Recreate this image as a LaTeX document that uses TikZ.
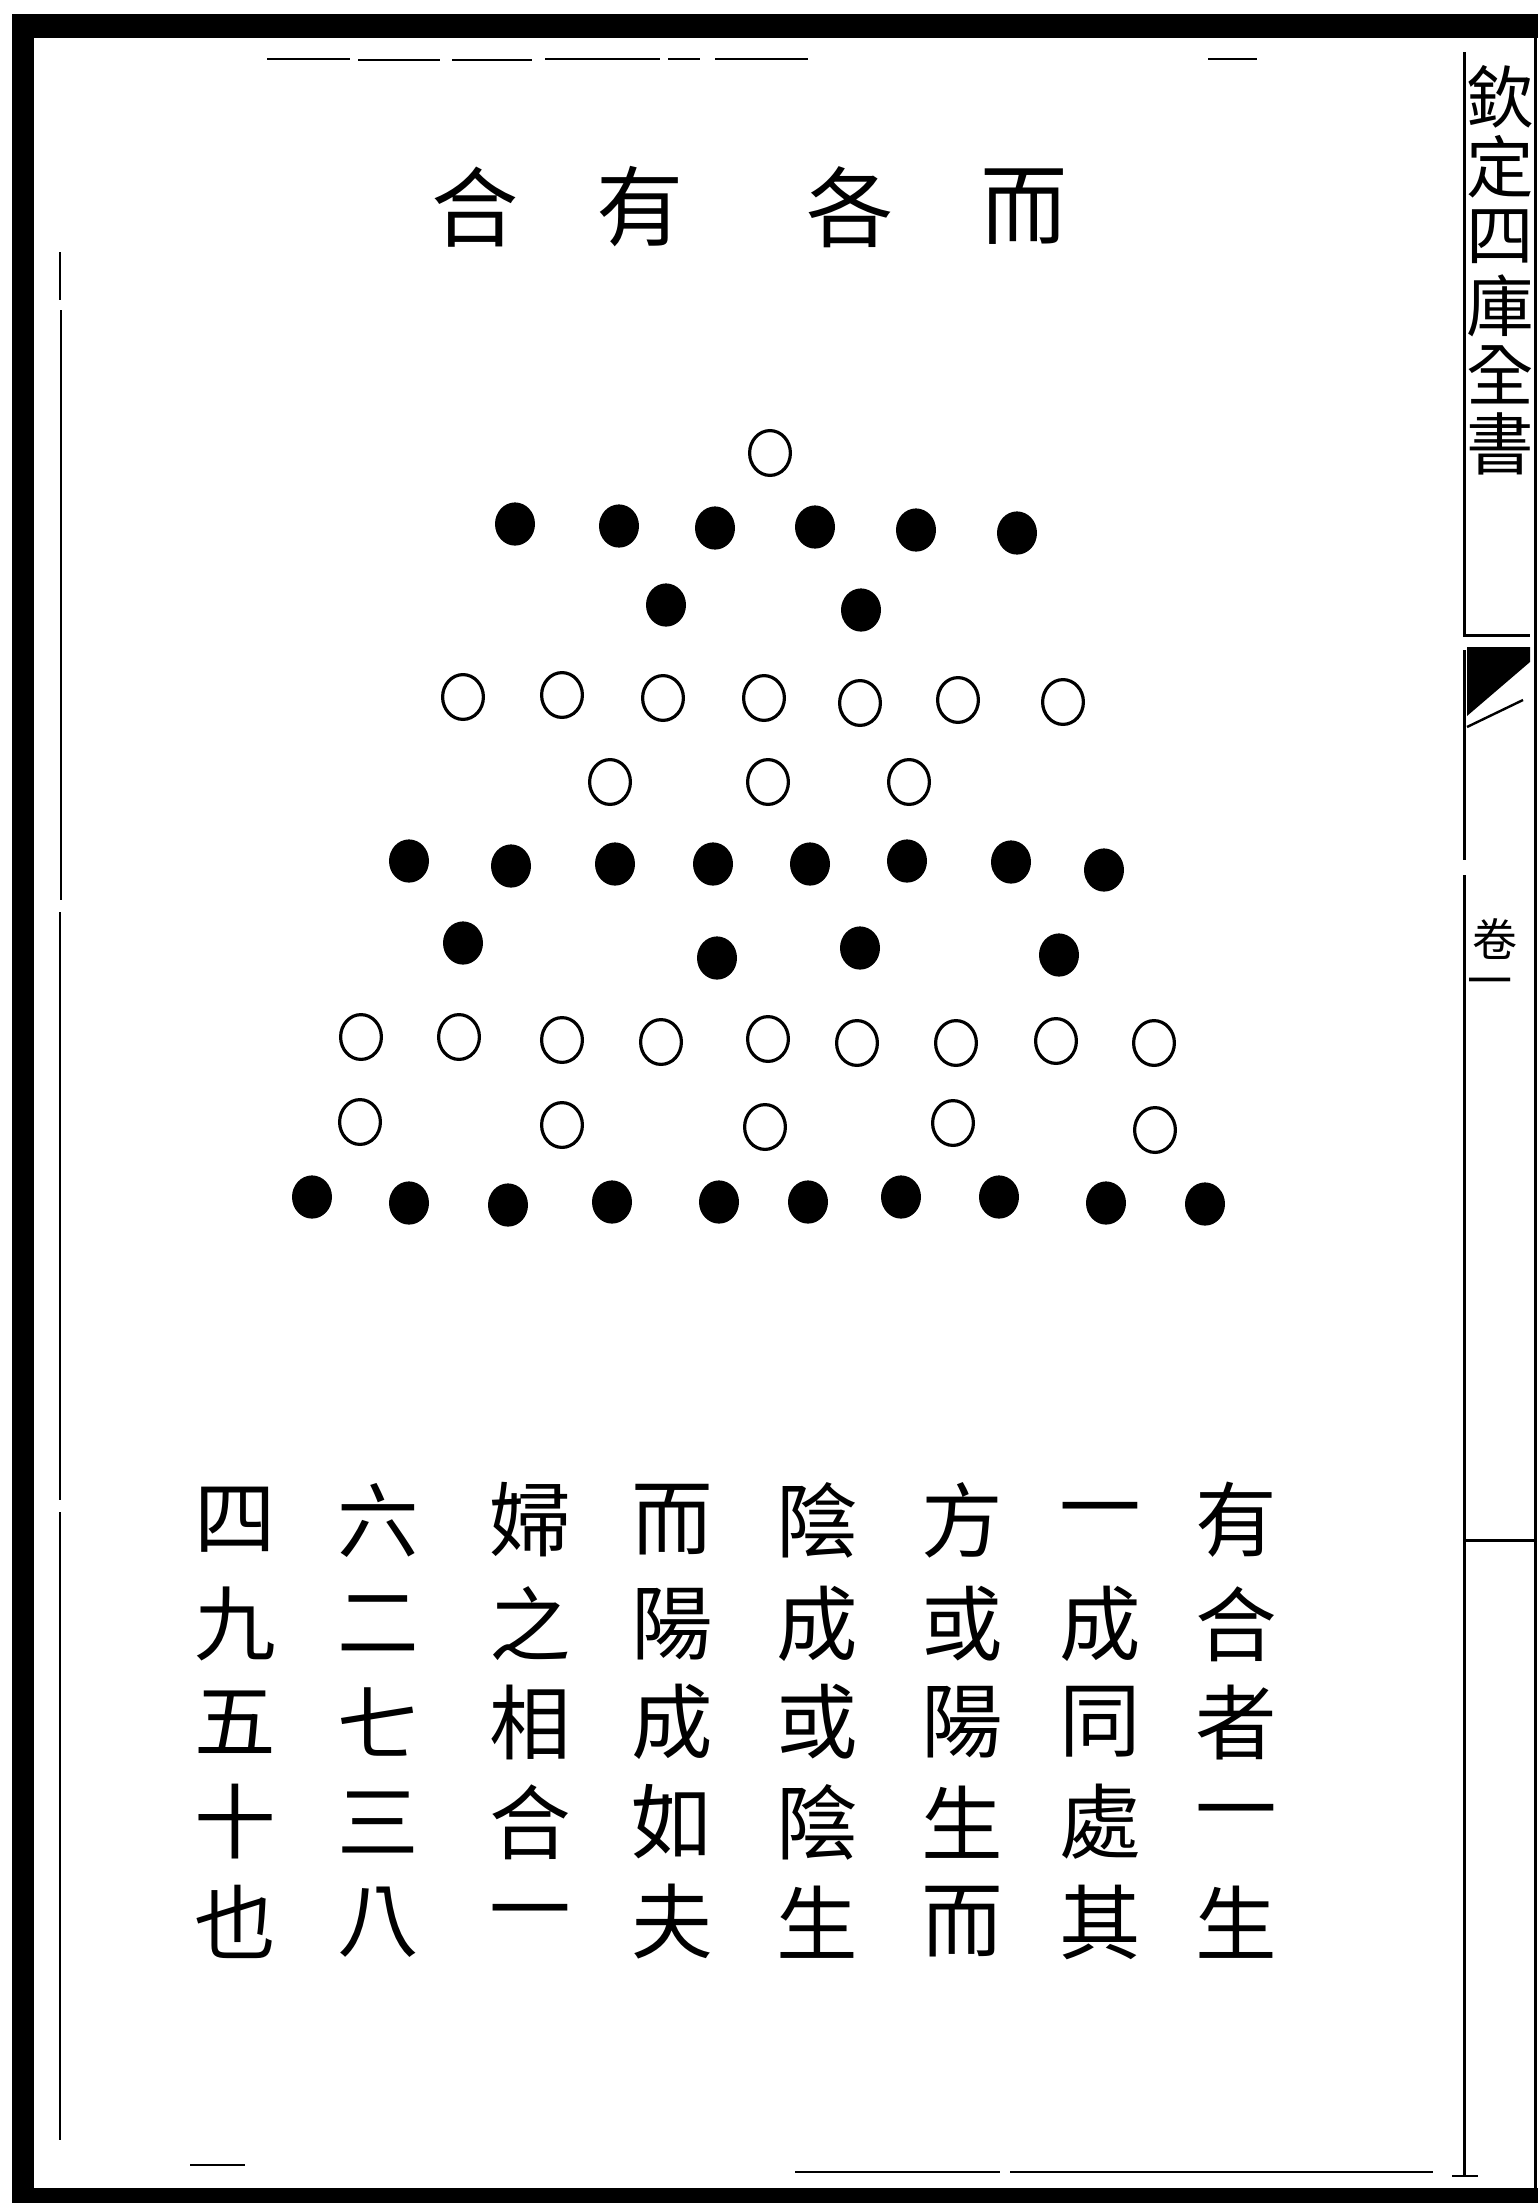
\documentclass[tikz,border=0pt]{standalone}
\usepackage{fontspec}
\newfontfamily\cjk{Noto Sans CJK TC}
\usetikzlibrary{shapes.geometric}
\begin{document}
\begin{tikzpicture}[x=0.25mm,y=-0.25mm,
  soliddot/.style={ellipse,fill=black,inner sep=0pt,minimum width=10mm,minimum height=10.8mm},
  hollowdot/.style={ellipse,draw=black,line width=0.8mm,inner sep=0pt,minimum width=10.2mm,minimum height=11.2mm},
  titlechar/.style={font=\cjk\fontsize{62pt}{62pt}\selectfont,inner sep=0pt},
  bodychar/.style={font=\cjk\fontsize{58pt}{58pt}\selectfont,inner sep=0pt},
  sidechar/.style={font=\cjk\fontsize{48pt}{48pt}\selectfont,inner sep=0pt},
  smallchar/.style={font=\cjk\fontsize{32pt}{32pt}\selectfont,inner sep=0pt},
  frameline/.style={line width=0.75mm,black},
  thinline/.style={line width=0.6mm,black}]
\useasboundingbox (0,0) rectangle (1538,2203);
\fill[white] (0,0) rectangle (1538,2203);
% outer thick border
\fill[black] (12,14) rectangle (1538,38);
\fill[black] (12,14) rectangle (34,2203);
\fill[black] (12,2188) rectangle (1538,2203);
\draw[frameline] (1535,38) -- (1535,2188);
% inner printed frame
\draw[thinline] (267,59) -- (350,59);
\draw[thinline] (358,60) -- (440,60);
\draw[thinline] (452,60) -- (532,60);
\draw[thinline] (545,59) -- (660,59);
\draw[thinline] (668,59) -- (700,59);
\draw[thinline] (715,59) -- (808,59);
\draw[thinline] (1208,59) -- (1257,59);
\draw[thinline] (60,252) -- (60,300);
\draw[thinline] (61,310) -- (61,900);
\draw[thinline] (60,912) -- (60,1500);
\draw[thinline] (60,1512) -- (60,2140);
\draw[thinline] (190,2165) -- (245,2165);
\draw[thinline] (795,2172) -- (1000,2172);
\draw[thinline] (1010,2172) -- (1433,2172);
\draw[thinline] (1452,2176) -- (1478,2176);
% right column
\draw[frameline] (1464,52) -- (1464,635) -- (1530,635);
\draw[frameline] (1464,650) -- (1464,860);
\draw[frameline] (1464,875) -- (1464,1540);
\draw[frameline] (1464,1540) -- (1535,1540);
\draw[frameline] (1464,1540) -- (1464,2176);
\fill[black] (1467,647) -- (1530,647) -- (1530,662) -- (1467,716) -- cycle;
\draw[thinline] (1467,727) -- (1523,700);
\node[sidechar] (s1) at (1500,97) {欽};
\node[sidechar] (s2) at (1500,167) {定};
\node[sidechar] (s3) at (1500,237) {四};
\node[sidechar] (s4) at (1500,306) {庫};
\node[sidechar] (s5) at (1500,375) {全};
\node[sidechar] (s6) at (1500,444) {書};
\node[smallchar] (v1) at (1495,939) {卷};
\node[smallchar] (v2) at (1490,988) {一};
% title
\node[titlechar] (t1) at (475,207) {合};
\node[titlechar] (t2) at (640,207) {有};
\node[titlechar] (t3) at (850,207) {各};
\node[titlechar] (t4) at (1024,207) {而};
% dots
\node[hollowdot] (a1) at (770,453) {};
\foreach \x/\y [count=\i] in {515/524,619/526,715/528,815/527,916/530,1017/533}
  \node[soliddot] (b\i) at (\x,\y) {};
\foreach \x/\y [count=\i] in {666/605,861/610}
  \node[soliddot] (c\i) at (\x,\y) {};
\foreach \x/\y [count=\i] in {463/697,562/695,663/698,764/698,860/703,958/700,1063/702}
  \node[hollowdot] (d\i) at (\x,\y) {};
\foreach \x/\y [count=\i] in {610/782,768/782,909/782}
  \node[hollowdot] (e\i) at (\x,\y) {};
\foreach \x/\y [count=\i] in {409/861,511/866,615/864,713/864,810/864,907/861,1011/862,1104/870}
  \node[soliddot] (f\i) at (\x,\y) {};
\foreach \x/\y [count=\i] in {463/943,717/958,860/948,1059/955}
  \node[soliddot] (g\i) at (\x,\y) {};
\foreach \x/\y [count=\i] in {361/1037,459/1037,562/1040,661/1042,768/1039,857/1043,956/1043,1056/1041,1154/1043}
  \node[hollowdot] (h\i) at (\x,\y) {};
\foreach \x/\y [count=\i] in {360/1122,562/1125,765/1127,953/1123,1155/1130}
  \node[hollowdot] (k\i) at (\x,\y) {};
\foreach \x/\y [count=\i] in {312/1197,409/1203,508/1205,612/1202,719/1202,808/1202,901/1197,999/1197,1106/1203,1205/1204}
  \node[soliddot] (m\i) at (\x,\y) {};
% body text, columns right to left
\foreach \col/\x in {1/1236,2/1100,3/962,4/817,5/672,6/530,7/378,8/235}{
  \foreach \row/\y in {1/1520,2/1624,3/1722,4/1822,5/1922}{
    \coordinate (p\col-\row) at (\x,\y);
  }
}
\foreach \col/\txt in {1/{有,合,者,一,生},2/{一,成,同,處,其},3/{方,或,陽,生,而},4/{陰,成,或,陰,生},5/{而,陽,成,如,夫},6/{婦,之,相,合,一},7/{六,二,七,三,八},8/{四,九,五,十,也}}{
  \foreach \ch [count=\row] in \txt {
    \node[bodychar] (w\col-\row) at (p\col-\row) {\ch};
  }
}
\end{tikzpicture}
\end{document}
